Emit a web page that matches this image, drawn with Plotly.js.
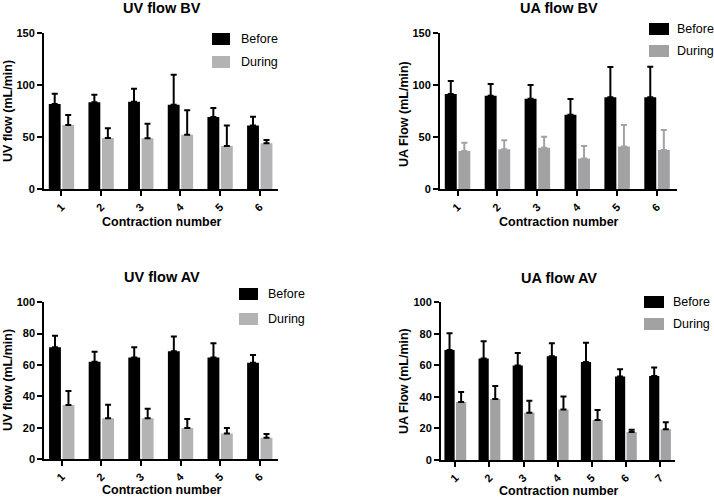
<!DOCTYPE html>
<html>
<head>
<meta charset="utf-8">
<script src="https://cdn.plot.ly/plotly-3.0.1.min.js"></script>
<style>html,body{margin:0;padding:0;background:#fff;}#chart{width:714px;height:498px;}</style>
</head>
<body>
<div id="chart"></div>
<script>
// ---- Data ----
const contractions6 = ['1', '2', '3', '4', '5', '6'];
const contractions7 = ['1', '2', '3', '4', '5', '6', '7'];

const uvBV_before = [81.7, 83.3, 83.9, 81.1, 69.3, 61.0];
const uvBV_beforeErr = [9.9, 7.3, 12.5, 28.7, 8.6, 8.6];
const uvBV_during = [61.6, 49.1, 48.8, 52.3, 41.5, 44.0];
const uvBV_duringErr = [9.6, 9.3, 14.1, 23.3, 19.5, 3.2];

const uaBV_before = [91.3, 89.7, 86.8, 71.5, 88.1, 88.1];
const uaBV_beforeErr = [12.4, 11.2, 13.1, 15.0, 29.0, 29.3];
const uaBV_during = [36.7, 38.3, 39.9, 29.4, 40.9, 37.7];
const uaBV_duringErr = [8.0, 8.6, 10.5, 12.1, 20.7, 19.1];

const uvAV_before = [71.3, 62.1, 64.7, 68.7, 64.7, 61.5];
const uvAV_beforeErr = [7.4, 6.4, 6.6, 9.4, 9.1, 4.9];
const uvAV_during = [34.5, 26.0, 26.0, 19.8, 16.2, 13.6];
const uvAV_duringErr = [8.9, 8.7, 6.1, 5.7, 3.6, 2.4];

const uaAV_before = [69.8, 64.3, 60.0, 65.8, 62.2, 52.9, 53.3];
const uaAV_beforeErr = [10.5, 11.0, 7.9, 8.2, 12.2, 4.6, 5.3];
const uaAV_during = [36.8, 38.7, 30.0, 32.1, 25.4, 17.8, 19.5];
const uaAV_duringErr = [6.3, 8.2, 7.6, 8.1, 6.3, 1.4, 4.4];

const panelTitles = ['UV flow BV', 'UA flow BV', 'UV flow AV', 'UA flow AV'];
const yTitles = ['UV flow (mL/min)', 'UA Flow (mL/min)', 'UV flow (mL/min)', 'UA Flow (mL/min)'];
const xTitle = 'Contraction number';
const seriesNames = ['Before', 'During'];

// ---- Styling ----
const W = 714, H = 498;
const FONT = 'Liberation Sans, Arial, sans-serif';
const BLACK = '#000000';
const GRAY_L = '#b3b3b5';
const GRAY_D = '#a2a2a4';
const px = x => x / W;
const py = y => 1 - y / H;

function errObj(arr, color) {
  return {type: 'data', symmetric: false, array: arr, arrayminus: arr.map(() => 0),
          color: color, thickness: 2, width: 3};
}
function barPair(cats, b, be, d, de, ax, grayColor, duringErrColor) {
  return [
    {type: 'bar', x: cats, y: b, name: seriesNames[0], marker: {color: BLACK, line: {width: 0}},
     error_y: errObj(be, BLACK), xaxis: 'x' + ax, yaxis: 'y' + ax, showlegend: false, offsetgroup: 'b'},
    {type: 'bar', x: cats, y: d, name: seriesNames[1], marker: {color: grayColor, line: {width: 0}},
     error_y: errObj(de, duringErrColor), xaxis: 'x' + ax, yaxis: 'y' + ax, showlegend: false, offsetgroup: 'd'}
  ];
}

const data = [].concat(
  barPair(contractions6, uvBV_before, uvBV_beforeErr, uvBV_during, uvBV_duringErr, '', GRAY_L, BLACK),
  barPair(contractions6, uaBV_before, uaBV_beforeErr, uaBV_during, uaBV_duringErr, '2', GRAY_D, GRAY_D),
  barPair(contractions6, uvAV_before, uvAV_beforeErr, uvAV_during, uvAV_duringErr, '3', GRAY_L, BLACK),
  barPair(contractions7, uaAV_before, uaAV_beforeErr, uaAV_during, uaAV_duringErr, '4', GRAY_D, BLACK)
);
// fix first pair axis ids
data[0].xaxis = 'x'; data[0].yaxis = 'y'; data[1].xaxis = 'x'; data[1].yaxis = 'y';

function xAxis(domain, range, anchor) {
  return {domain: domain, range: range, anchor: anchor, type: 'category',
          showline: true, linecolor: BLACK, linewidth: 2, mirror: false,
          ticks: 'outside', ticklen: 5, tickwidth: 2, tickcolor: BLACK,
          tickangle: -45, tickfont: {family: FONT, size: 11, color: BLACK, weight: 'bold'},
          showgrid: false, zeroline: false, fixedrange: true};
}
function yAxis(domain, range, dtick, anchor) {
  return {domain: domain, range: range, dtick: dtick, tick0: 0, anchor: anchor,
          showline: true, linecolor: BLACK, linewidth: 2,
          ticks: 'outside', ticklen: 5, tickwidth: 2, tickcolor: BLACK,
          tickfont: {family: FONT, size: 11, color: BLACK, weight: 'bold'},
          showgrid: false, zeroline: false, fixedrange: true};
}

const layout = {
  width: W, height: H,
  margin: {l: 0, r: 0, t: 0, b: 0},
  paper_bgcolor: '#ffffff', plot_bgcolor: 'rgba(0,0,0,0)',
  barmode: 'group', bargap: 0.32, bargroupgap: 0.12,
  showlegend: false,
  xaxis:  xAxis([px(44), px(278)], [-0.44, 5.46], 'y'),
  yaxis:  yAxis([py(189.3), py(32.7)], [0, 150], 50, 'x'),
  xaxis2: xAxis([px(440), px(677)], [-0.44, 5.5], 'y2'),
  yaxis2: yAxis([py(189.3), py(32.7)], [0, 150], 50, 'x2'),
  xaxis3: xAxis([px(44.3), px(278)], [-0.44, 5.46], 'y3'),
  yaxis3: yAxis([py(459), py(302.3)], [0, 100], 20, 'x3'),
  xaxis4: xAxis([px(441), px(675)], [-0.42, 6.44], 'y4'),
  yaxis4: yAxis([py(460), py(302.3)], [0, 100], 20, 'x4'),
  annotations: [],
  shapes: []
};

const panels = [
  {title: [162, 8.5], ytitle: [8, 111], xtitle: [162, 222], leg: {x0: 212, x1: 230, y1: 39, y2: 62, tx: 239}, gray: GRAY_L},
  {title: [559, 8.5], ytitle: [404, 114], xtitle: [559, 222], leg: {x0: 649, x1: 669, y1: 29, y2: 51, tx: 675}, gray: GRAY_D},
  {title: [162, 277], ytitle: [8, 380], xtitle: [162, 490], leg: {x0: 239, x1: 258, y1: 294, y2: 319, tx: 266}, gray: GRAY_L},
  {title: [559, 278], ytitle: [404, 381], xtitle: [559, 491], leg: {x0: 644, x1: 664, y1: 302, y2: 324, tx: 671}, gray: GRAY_D}
];

panels.forEach((p, i) => {
  layout.annotations.push({text: panelTitles[i], xref: 'paper', yref: 'paper', x: px(p.title[0]), y: py(p.title[1]),
    xanchor: 'center', yanchor: 'middle', showarrow: false,
    font: {family: FONT, size: 14.5, color: BLACK, weight: 'bold'}});
  layout.annotations.push({text: yTitles[i], xref: 'paper', yref: 'paper', x: px(p.ytitle[0]), y: py(p.ytitle[1]),
    xanchor: 'center', yanchor: 'middle', textangle: -90, showarrow: false,
    font: {family: FONT, size: 12.5, color: BLACK, weight: 'bold'}});
  layout.annotations.push({text: xTitle, xref: 'paper', yref: 'paper', x: px(p.xtitle[0]), y: py(p.xtitle[1]),
    xanchor: 'center', yanchor: 'middle', showarrow: false,
    font: {family: FONT, size: 12.5, color: BLACK, weight: 'bold'}});
  const L = p.leg;
  [[L.y1, BLACK, seriesNames[0]], [L.y2, p.gray, seriesNames[1]]].forEach(([yc, col, name]) => {
    layout.shapes.push({type: 'rect', xref: 'paper', yref: 'paper', x0: px(L.x0), x1: px(L.x1),
      y0: py(yc + 6), y1: py(yc - 6), fillcolor: col, line: {width: 0}});
    layout.annotations.push({text: name, xref: 'paper', yref: 'paper', x: px(L.tx), y: py(yc),
      xanchor: 'left', yanchor: 'middle', showarrow: false,
      font: {family: FONT, size: 12.5, color: BLACK}});
  });
});

Plotly.newPlot('chart', data, layout, {staticPlot: true, displayModeBar: false});
</script>
</body>
</html>
